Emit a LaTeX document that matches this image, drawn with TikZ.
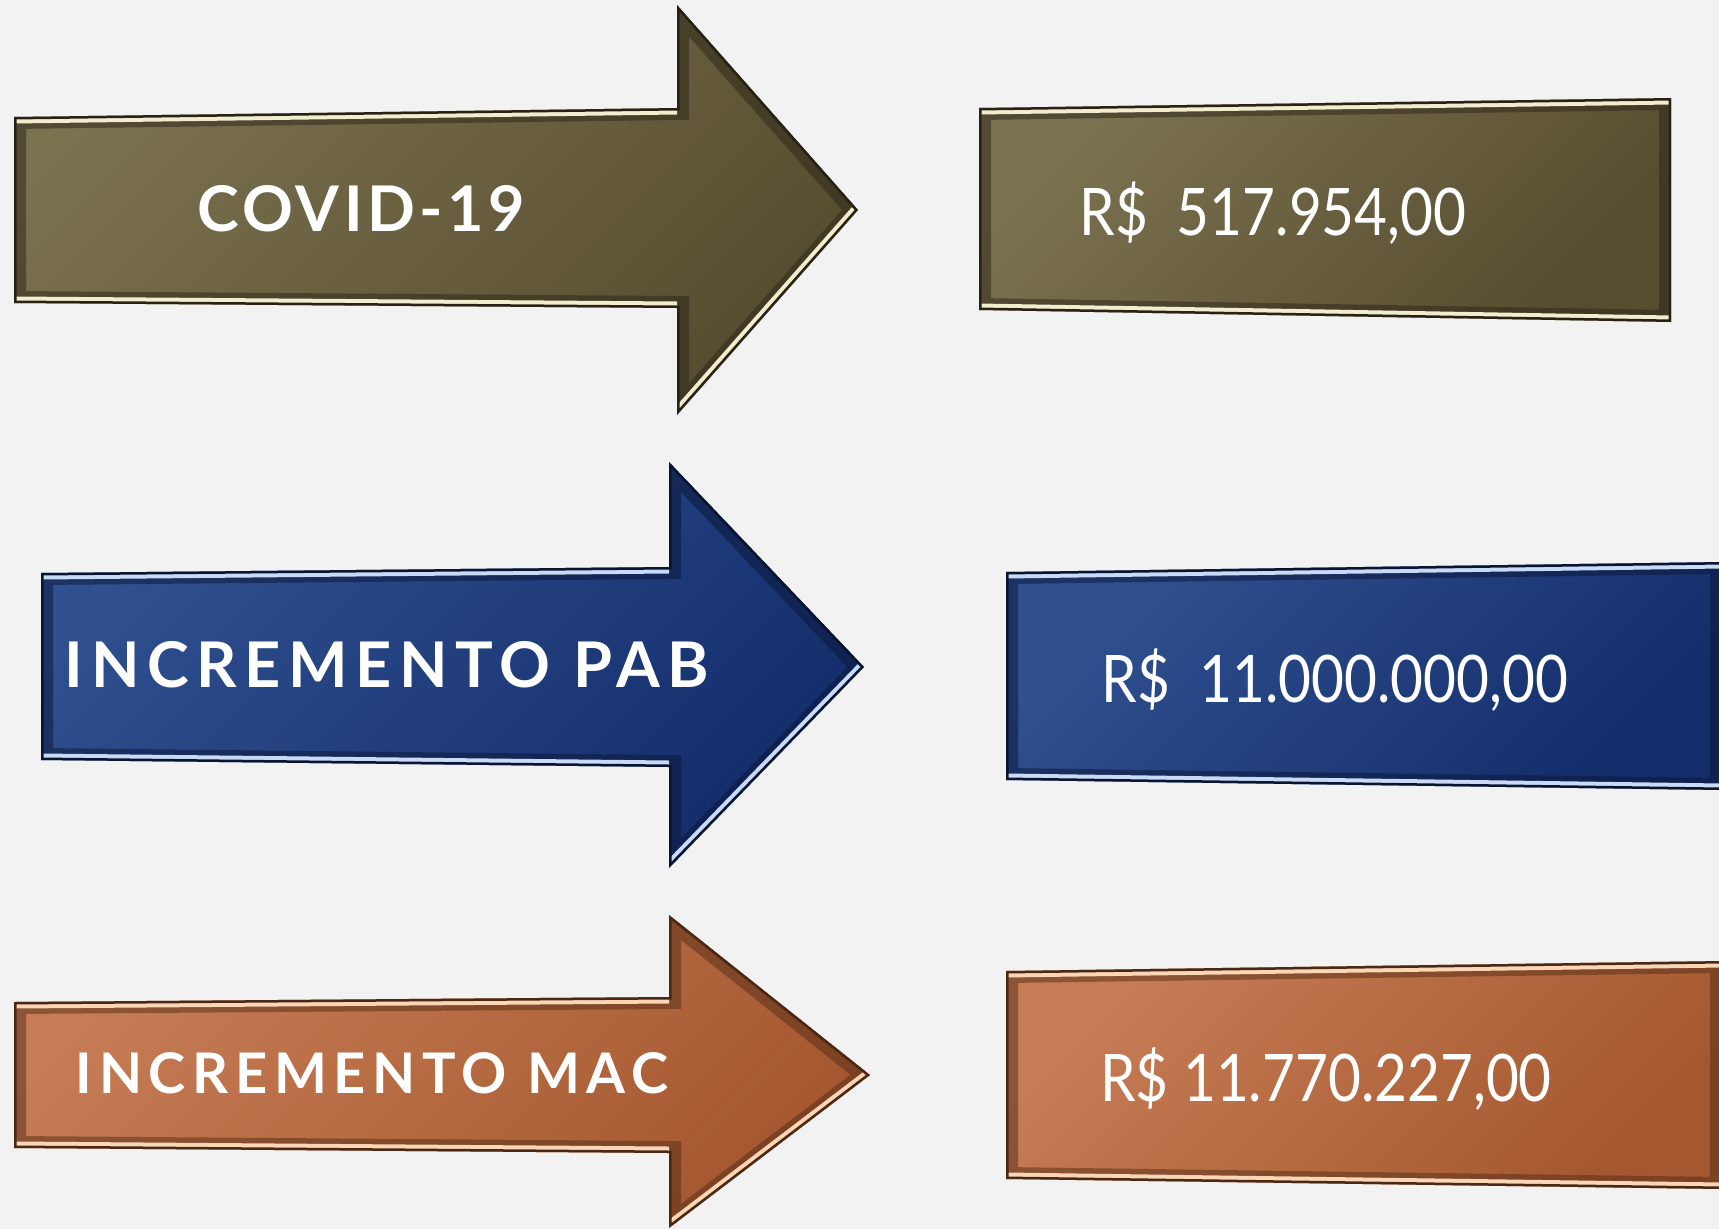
\documentclass[tikz,border=0pt]{standalone}
\usepackage{fontspec}
\setmainfont{Lato}
\newfontfamily\labelfont[LetterSpace=12]{Lato}
\newfontfamily\valuefont[FakeStretch=0.865]{Lato}
\definecolor{bg}{HTML}{F2F2F2}
\definecolor{olivelight}{HTML}{7B7250}
\definecolor{olivedark}{HTML}{564C2F}
\definecolor{olivehigh}{HTML}{F2EDCF}
\definecolor{bluelight}{HTML}{30508F}
\definecolor{bluedark}{HTML}{142D6B}
\definecolor{bluehigh}{HTML}{C8DAF6}
\definecolor{copperlight}{HTML}{C67C55}
\definecolor{copperdark}{HTML}{A5582F}
\definecolor{copperhigh}{HTML}{FAD6B6}
\tikzset{
  label/.style={text=white, inner sep=0pt, anchor=base},
  value/.style={text=white, inner sep=0pt, anchor=base}
}
% #1 light, #2 dark, #3 highlight, #4 outline, #5 lit edges
\newcommand{\bevel}[5]{%
  \shade[top color=#1, bottom color=#2, shading angle=45] #4;
  \begin{scope}
    \clip #4;
    \draw[line width=24pt, #2!50!black, opacity=.5] #4;
    \draw[line width=13pt, #3] #5;
    \draw[line width=5pt, #2!45!black] #4;
  \end{scope}}
\begin{document}
\begin{tikzpicture}[x=1pt,y=-1pt]
\fill[bg] (0,0) rectangle (1719,1229);
\useasboundingbox (0,0) rectangle (1719,1229);

\bevel{olivelight}{olivedark}{olivehigh}
  {(14,117) -- (677,108) -- (677,5) -- (858,210) -- (677,415) -- (677,308) -- (14,303) -- cycle}
  {(14,117) -- (677,108) (14,303) -- (677,308) (858,210) -- (677,415)}
\bevel{olivelight}{olivedark}{olivehigh}
  {(979,108) -- (1671,98) -- (1671,322) -- (979,310) -- cycle}
  {(979,108) -- (1671,98) (979,310) -- (1671,322)}

\bevel{bluelight}{bluedark}{bluehigh}
  {(41,573) -- (669,567) -- (669,462) -- (864,667) -- (669,868) -- (669,767) -- (41,760) -- cycle}
  {(41,573) -- (669,567) (41,760) -- (669,767) (864,667) -- (669,868)}
\bevel{bluelight}{bluedark}{bluehigh}
  {(1006,572) -- (1722,562) -- (1722,790) -- (1006,780) -- cycle}
  {(1006,572) -- (1722,562) (1006,780) -- (1722,790)}

\bevel{copperlight}{copperdark}{copperhigh}
  {(14,1002) -- (669,997) -- (669,915) -- (870,1075) -- (669,1228) -- (669,1153) -- (14,1148) -- cycle}
  {(14,1002) -- (669,997) (14,1148) -- (669,1153) (870,1075) -- (669,1228)}
\bevel{copperlight}{copperdark}{copperhigh}
  {(1006,971) -- (1722,961) -- (1722,1189) -- (1006,1179) -- cycle}
  {(1006,971) -- (1722,961) (1006,1179) -- (1722,1189)}

\node[label, font=\labelfont\addfontfeatures{LetterSpace=7}\bfseries\fontsize{63}{70}\selectfont] (covid) at (361,231) {COVID-19};
\node[label, font=\labelfont\bfseries\fontsize{63}{70}\selectfont] (pab) at (387,687) {INCREMENTO PAB};
\node[label, font=\labelfont\bfseries\fontsize{56}{64}\selectfont] (mac) at (372,1093) {INCREMENTO MAC};

\node[value, font=\valuefont\fontsize{65.6}{72}\selectfont] (valcovid) at (1273,235) {R\$~~517.954,00};
\node[value, font=\valuefont\fontsize{65.6}{72}\selectfont] (valpab) at (1335,702) {R\$~~11.000.000,00};
\node[value, font=\valuefont\fontsize{65.6}{72}\selectfont] (valmac) at (1326,1101) {R\$ 11.770.227,00};
\end{tikzpicture}
\end{document}
